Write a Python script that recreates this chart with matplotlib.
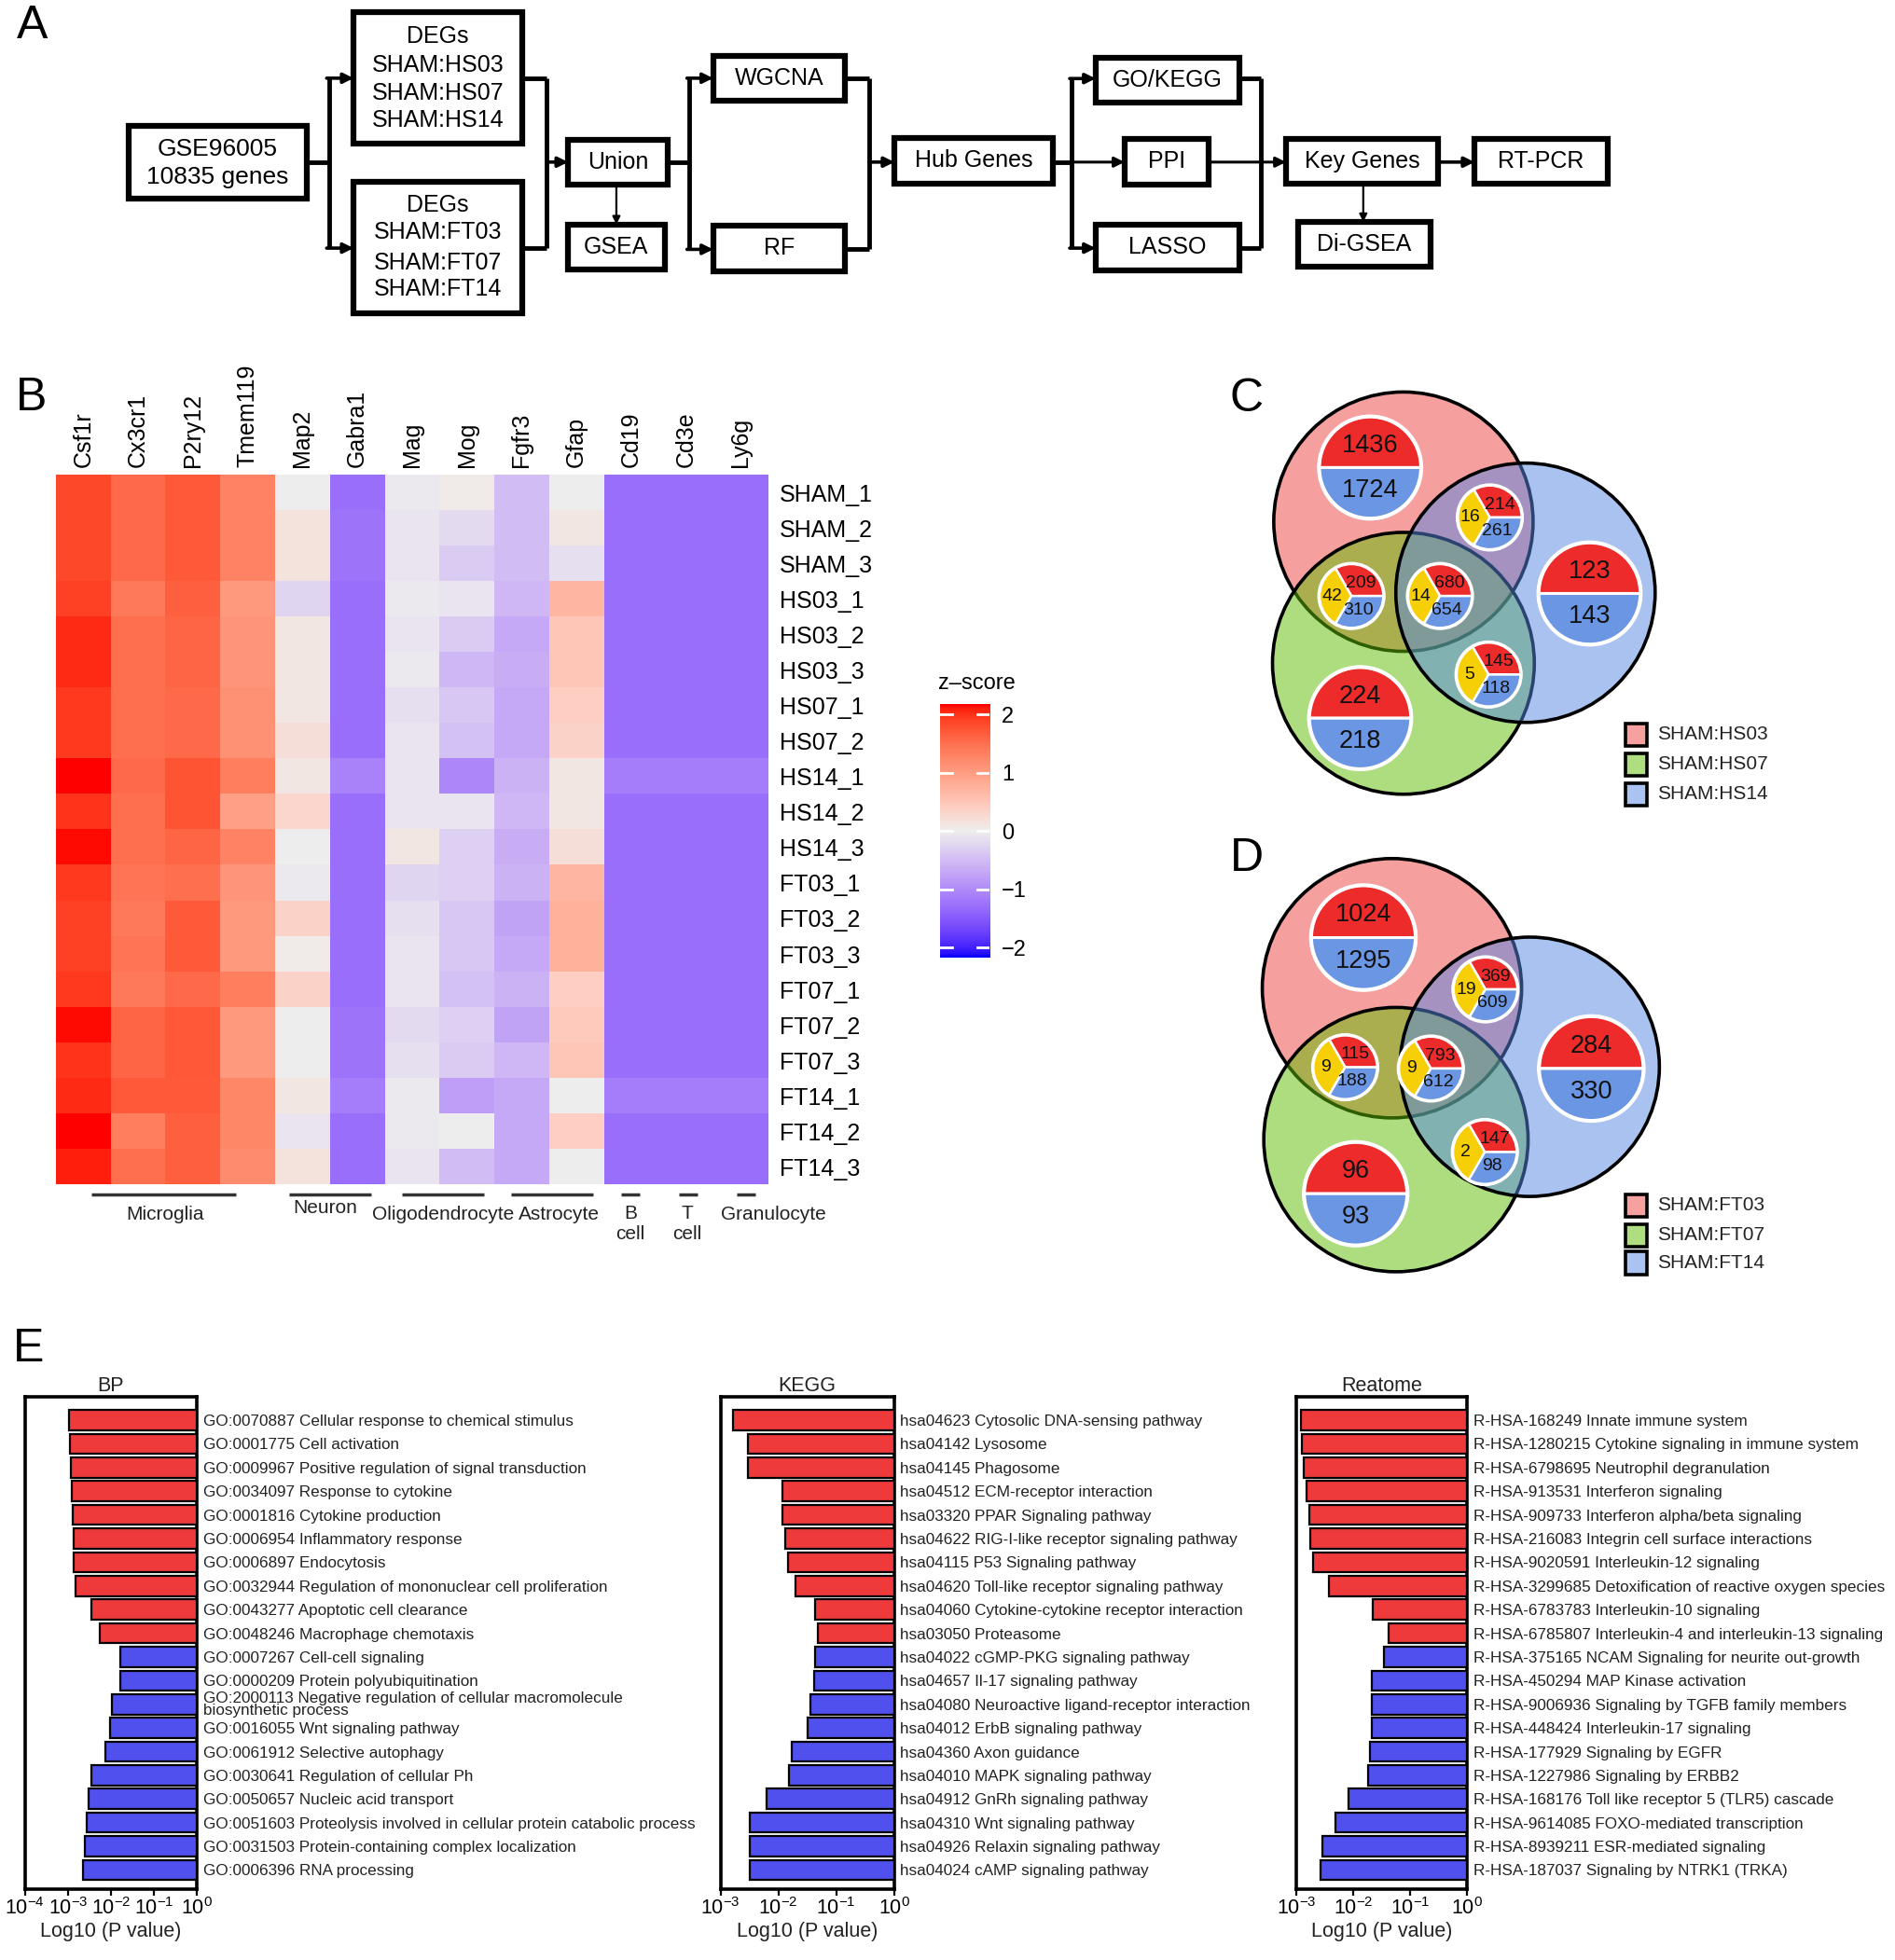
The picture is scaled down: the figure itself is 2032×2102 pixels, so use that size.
import numpy as np
import matplotlib
matplotlib.use('Agg')
import matplotlib.pyplot as plt
from matplotlib.patches import Rectangle, Circle, Wedge
from matplotlib.colors import ListedColormap
from matplotlib.ticker import LogLocator, NullLocator

plt.rcParams['font.family'] = ['Liberation Sans', 'DejaVu Sans']
plt.rcParams['mathtext.fontset'] = 'custom'
plt.rcParams['mathtext.rm'] = 'Liberation Sans'
plt.rcParams['mathtext.it'] = 'Liberation Sans:italic'
plt.rcParams['mathtext.bf'] = 'Liberation Sans:bold'

# ---------------- data ----------------
# Panel A flowchart node texts
node_gse = ["GSE96005", "10835 genes"]
node_deg_hs = ["DEGs", "SHAM:HS03", "SHAM:HS07", "SHAM:HS14"]
node_deg_ft = ["DEGs", "SHAM:FT03", "SHAM:FT07", "SHAM:FT14"]
node_single = ["Union", "GSEA", "WGCNA", "RF", "Hub Genes", "GO/KEGG", "PPI",
               "LASSO", "Key Genes", "Di-GSEA", "RT-PCR"]

# Panel B heatmap
genes = ["Csf1r", "Cx3cr1", "P2ry12", "Tmem119", "Map2", "Gabra1", "Mag", "Mog",
         "Fgfr3", "Gfap", "Cd19", "Cd3e", "Ly6g"]
samples = ["SHAM_1", "SHAM_2", "SHAM_3", "HS03_1", "HS03_2", "HS03_3", "HS07_1",
           "HS07_2", "HS14_1", "HS14_2", "HS14_3", "FT03_1", "FT03_2", "FT03_3",
           "FT07_1", "FT07_2", "FT07_3", "FT14_1", "FT14_2", "FT14_3"]
csf1r = [1.85, 1.85, 1.85, 1.90, 2.05, 2.05, 1.95, 1.95, 2.17, 2.00, 2.15, 1.95, 1.90, 1.90, 1.95, 2.15, 2.00, 2.05, 2.17, 2.10]
cx3cr1 = [1.55, 1.55, 1.55, 1.40, 1.50, 1.50, 1.50, 1.50, 1.55, 1.50, 1.50, 1.45, 1.40, 1.45, 1.40, 1.60, 1.60, 1.70, 1.35, 1.50]
p2ry12 = [1.70, 1.70, 1.70, 1.65, 1.60, 1.60, 1.55, 1.55, 1.75, 1.75, 1.60, 1.50, 1.70, 1.70, 1.55, 1.72, 1.72, 1.70, 1.65, 1.65]
tmem119 = [1.30, 1.30, 1.30, 1.05, 1.10, 1.10, 1.15, 1.15, 1.35, 0.95, 1.30, 1.10, 1.05, 1.05, 1.35, 1.05, 1.05, 1.25, 1.25, 1.20]
map2 = [0.00, 0.15, 0.15, -0.25, 0.10, 0.10, 0.10, 0.20, 0.10, 0.30, 0.00, -0.05, 0.35, 0.05, 0.35, 0.00, 0.00, 0.10, -0.10, 0.15]
gabra1 = [-1.30, -1.25, -1.25, -1.30, -1.30, -1.30, -1.30, -1.30, -1.10, -1.30, -1.30, -1.30, -1.30, -1.30, -1.30, -1.25, -1.25, -1.15, -1.30, -1.30]
mag = [-0.05, -0.10, -0.10, -0.05, -0.10, -0.05, -0.15, -0.10, -0.10, -0.10, 0.10, -0.25, -0.15, -0.10, -0.10, -0.20, -0.15, -0.05, -0.05, -0.10]
mog = [0.05, -0.20, -0.35, -0.10, -0.35, -0.55, -0.40, -0.45, -1.05, -0.10, -0.30, -0.30, -0.40, -0.40, -0.45, -0.30, -0.35, -0.80, 0.00, -0.50]
fgfr3 = [-0.50, -0.50, -0.50, -0.55, -0.70, -0.65, -0.70, -0.70, -0.60, -0.55, -0.65, -0.60, -0.75, -0.70, -0.60, -0.75, -0.55, -0.70, -0.70, -0.70]
gfap = [0.00, 0.10, -0.15, 0.70, 0.50, 0.50, 0.40, 0.35, 0.10, 0.10, 0.20, 0.70, 0.75, 0.75, 0.40, 0.45, 0.50, 0.00, 0.40, 0.00]
cd19 = [-1.30, -1.30, -1.30, -1.30, -1.30, -1.30, -1.30, -1.30, -1.15, -1.30, -1.30, -1.30, -1.30, -1.30, -1.30, -1.30, -1.30, -1.15, -1.30, -1.30]
cd3e = [-1.30, -1.30, -1.30, -1.30, -1.30, -1.30, -1.30, -1.30, -1.15, -1.30, -1.30, -1.30, -1.30, -1.30, -1.30, -1.30, -1.30, -1.15, -1.30, -1.30]
ly6g = [-1.30, -1.30, -1.30, -1.30, -1.30, -1.30, -1.30, -1.30, -1.15, -1.30, -1.30, -1.30, -1.30, -1.30, -1.30, -1.30, -1.30, -1.15, -1.30, -1.30]
group_names = ["Microglia", "Neuron", "Oligodendrocyte", "Astrocyte", "B\ncell", "T\ncell", "Granulocyte"]
group_sizes = [4, 2, 2, 2, 1, 1, 1]
cbar_ticks = [2, 1, 0, -1, -2]

# Panels C / D Venn counts (regions: only1, only3, only2, 1&3, 1&2, all, 2&3)
hs_labels = ["SHAM:HS03", "SHAM:HS07", "SHAM:HS14"]
hs_up = [1436, 123, 224, 214, 209, 680, 145]
hs_down = [1724, 143, 218, 261, 310, 654, 118]
hs_mixed = [None, None, None, 16, 42, 14, 5]
ft_labels = ["SHAM:FT03", "SHAM:FT07", "SHAM:FT14"]
ft_up = [1024, 284, 96, 369, 115, 793, 147]
ft_down = [1295, 330, 93, 609, 188, 612, 98]
ft_mixed = [None, None, None, 19, 9, 9, 2]

# Panel E enrichment
bp_terms = ["GO:0070887 Cellular response to chemical stimulus",
            "GO:0001775 Cell activation",
            "GO:0009967 Positive regulation of signal transduction",
            "GO:0034097 Response to cytokine",
            "GO:0001816 Cytokine production",
            "GO:0006954 Inflammatory response",
            "GO:0006897 Endocytosis",
            "GO:0032944 Regulation of mononuclear cell proliferation",
            "GO:0043277 Apoptotic cell clearance",
            "GO:0048246 Macrophage chemotaxis",
            "GO:0007267 Cell-cell signaling",
            "GO:0000209 Protein polyubiquitination",
            "GO:2000113 Negative regulation of cellular macromolecule\nbiosynthetic process",
            "GO:0016055 Wnt signaling pathway",
            "GO:0061912 Selective autophagy",
            "GO:0030641 Regulation of cellular Ph",
            "GO:0050657 Nucleic acid transport",
            "GO:0051603 Proteolysis involved in cellular protein catabolic process",
            "GO:0031503 Protein-containing complex localization",
            "GO:0006396 RNA processing"]
bp_log10p = [-2.98, -2.95, -2.94, -2.92, -2.89, -2.87, -2.86, -2.82, -2.45, -2.25,
             -1.78, -1.79, -1.98, -2.02, -2.13, -2.45, -2.51, -2.57, -2.61, -2.66]
bp_dir = ["up"] * 10 + ["down"] * 10

kegg_terms = ["hsa04623 Cytosolic DNA-sensing pathway",
              "hsa04142 Lysosome",
              "hsa04145 Phagosome",
              "hsa04512 ECM-receptor interaction",
              "hsa03320 PPAR Signaling pathway",
              "hsa04622 RIG-I-like receptor signaling pathway",
              "hsa04115 P53 Signaling pathway",
              "hsa04620 Toll-like receptor signaling pathway",
              "hsa04060 Cytokine-cytokine receptor interaction",
              "hsa03050 Proteasome",
              "hsa04022 cGMP-PKG signaling pathway",
              "hsa04657 Il-17 signaling pathway",
              "hsa04080 Neuroactive ligand-receptor interaction",
              "hsa04012 ErbB signaling pathway",
              "hsa04360 Axon guidance",
              "hsa04010 MAPK signaling pathway",
              "hsa04912 GnRh signaling pathway",
              "hsa04310 Wnt signaling pathway",
              "hsa04926 Relaxin signaling pathway",
              "hsa04024 cAMP signaling pathway"]
kegg_log10p = [-2.78, -2.53, -2.52, -1.93, -1.93, -1.88, -1.83, -1.70, -1.36, -1.31,
               -1.36, -1.38, -1.44, -1.49, -1.77, -1.81, -2.21, -2.50, -2.50, -2.50]
kegg_dir = ["up"] * 10 + ["down"] * 10

reac_terms = ["R-HSA-168249 Innate immune system",
              "R-HSA-1280215 Cytokine signaling in immune system",
              "R-HSA-6798695 Neutrophil degranulation",
              "R-HSA-913531 Interferon signaling",
              "R-HSA-909733 Interferon alpha/beta signaling",
              "R-HSA-216083 Integrin cell surface interactions",
              "R-HSA-9020591 Interleukin-12 signaling",
              "R-HSA-3299685 Detoxification of reactive oxygen species",
              "R-HSA-6783783 Interleukin-10 signaling",
              "R-HSA-6785807 Interleukin-4 and interleukin-13 signaling",
              "R-HSA-375165 NCAM Signaling for neurite out-growth",
              "R-HSA-450294 MAP Kinase activation",
              "R-HSA-9006936 Signaling by TGFB family members",
              "R-HSA-448424 Interleukin-17 signaling",
              "R-HSA-177929 Signaling by EGFR",
              "R-HSA-1227986 Signaling by ERBB2",
              "R-HSA-168176 Toll like receptor 5 (TLR5) cascade",
              "R-HSA-9614085 FOXO-mediated transcription",
              "R-HSA-8939211 ESR-mediated signaling",
              "R-HSA-187037 Signaling by NTRK1 (TRKA)"]
reac_log10p = [-2.93, -2.91, -2.88, -2.82, -2.77, -2.76, -2.71, -2.43, -1.67, -1.39,
               -1.46, -1.68, -1.68, -1.68, -1.71, -1.74, -2.08, -2.32, -2.54, -2.58]
reac_dir = ["up"] * 10 + ["down"] * 10

# ---------------- figure ----------------
W, H = 1520.0, 1572.0
fig = plt.figure(figsize=(20.32, 21.02), dpi=100)


def fax(x0, y0, x1, y1):
    return fig.add_axes([x0 / W, 1 - y1 / H, (x1 - x0) / W, (y1 - y0) / H])


bg = fig.add_axes([0, 0, 1, 1])
bg.set_xlim(0, W)
bg.set_ylim(H, 0)
bg.axis('off')

LETTER = 36
for s, x, y in [("A", 26, 21), ("B", 25, 319), ("C", 1000, 320), ("D", 1000, 689), ("E", 23, 1082)]:
    bg.text(x, y, s, fontsize=LETTER, ha='center', va='center')

# ---------------- Panel A ----------------
BOX_LW = 4.5
LINE_LW = 3.5
FS_A = 18


def box(x0, y0, x1, y1):
    bg.add_patch(Rectangle((x0 + 1.5, y0 + 2.5), x1 - x0, y1 - y0, fc='#bbbbbb', ec='none', zorder=2, alpha=0.5))
    bg.add_patch(Rectangle((x0, y0), x1 - x0, y1 - y0, fc='white', ec='black', lw=BOX_LW, zorder=3))


def line(xs, ys, lw=LINE_LW):
    bg.plot(xs, ys, color='black', lw=lw, solid_capstyle='butt', zorder=2.5)


def arrow(x0, y0, x1, y1, lw=2.6, ms=16):
    bg.annotate('', xy=(x1, y1), xytext=(x0, y0),
                arrowprops=dict(arrowstyle='-|>', lw=lw, color='black', mutation_scale=ms,
                                shrinkA=0, shrinkB=0), zorder=4)


# boxes
box(103, 101, 246, 159)
for t, y in zip(node_gse, [120, 142]):
    bg.text(174.5, y, t, ha='center', va='center', fontsize=19, zorder=5)
box(283.6, 10, 419, 115)
for t, y in zip(node_deg_hs, [29, 52, 75, 96.5]):
    bg.text(351.3, y, t, ha='center', va='center', fontsize=FS_A, zorder=5)
box(283.6, 145.5, 419, 251)
for t, y in zip(node_deg_ft, [164.6, 186.5, 210.8, 231.5]):
    bg.text(351.3, y, t, ha='center', va='center', fontsize=FS_A, zorder=5)

single_boxes = [(455.7, 112, 535.6, 148), (455.7, 180, 533, 216), (572, 45, 677.7, 80.6),
                (572, 181, 677.7, 217.5), (717.4, 110.6, 844.8, 147.4), (878.8, 46, 994, 82.3),
                (902, 111.3, 969.4, 148), (878.8, 180, 994, 216.7), (1031.5, 111.3, 1153.6, 147.4),
                (1041, 178, 1147.8, 214), (1182.7, 111.3, 1289.8, 147.4)]
for t, (x0, y0, x1, y1) in zip(node_single, single_boxes):
    box(x0, y0, x1, y1)
    bg.text((x0 + x1) / 2, (y0 + y1) / 2, t, ha='center', va='center', fontsize=FS_A, zorder=5)

# connectors
line([246, 264], [130, 130])
line([264, 264], [62.7, 199])
arrow(262, 62.7, 283.6, 62.7)
arrow(262, 199, 283.6, 199)
line([419, 438.7], [62.7, 62.7])
line([419, 438.7], [199, 199])
line([438.7, 438.7], [62.7, 199])
arrow(438.7, 130, 455.7, 130)
line([535.6, 552.6], [130, 130])
line([552.6, 552.6], [62.7, 200])
arrow(551, 62.7, 572, 62.7)
arrow(551, 200, 572, 200)
arrow(494.4, 148, 494.4, 180, lw=1.6, ms=12)
line([677.7, 697], [62.7, 62.7])
line([677.7, 697], [200, 200])
line([697, 697], [62.7, 200])
arrow(697, 130, 717.4, 130)
line([844.8, 859.4], [130, 130])
line([859.4, 859.4], [63, 199])
arrow(858, 63, 878.8, 63)
arrow(858, 199, 878.8, 199)
arrow(859.4, 130, 902, 130, lw=2.2)
line([994, 1011], [63, 63])
line([994, 1011], [199, 199])
line([1011, 1011], [63, 199])
arrow(969.4, 130, 1031.5, 130, lw=2.2)
arrow(1093.5, 147.4, 1093.5, 178, lw=1.6, ms=12)
arrow(1153.6, 130, 1182.7, 130)

# ---------------- Panel B heatmap ----------------


def srgb_to_lab(rgb):
    rgb = np.asarray(rgb, float)
    lin = np.where(rgb <= 0.04045, rgb / 12.92, ((rgb + 0.055) / 1.055) ** 2.4)
    M = np.array([[0.4124, 0.3576, 0.1805], [0.2126, 0.7152, 0.0722], [0.0193, 0.1192, 0.9505]])
    xyz = M @ lin / np.array([0.95047, 1.0, 1.08883])
    d = 6 / 29
    f = np.where(xyz > d ** 3, np.cbrt(xyz), xyz / (3 * d * d) + 4 / 29)
    return np.array([116 * f[1] - 16, 500 * (f[0] - f[1]), 200 * (f[1] - f[2])])


def lab_to_srgb(lab):
    L, a, b = lab
    fy = (L + 16) / 116
    fx = fy + a / 500
    fz = fy - b / 200
    d = 6 / 29
    fs = np.array([fx, fy, fz])
    xyz = np.where(fs > d, fs ** 3, 3 * d * d * (fs - 4 / 29)) * np.array([0.95047, 1.0, 1.08883])
    Mi = np.linalg.inv(np.array([[0.4124, 0.3576, 0.1805], [0.2126, 0.7152, 0.0722], [0.0193, 0.1192, 0.9505]]))
    lin = np.clip(Mi @ xyz, 0, 1)
    rgb = np.where(lin <= 0.0031308, 12.92 * lin, 1.055 * lin ** (1 / 2.4) - 0.055)
    return np.clip(rgb, 0, 1)


lab_lo = srgb_to_lab([0, 0, 1])
lab_mid = srgb_to_lab([0xEE / 255] * 3)
lab_hi = srgb_to_lab([1, 0, 0])
cols = []
for t in np.linspace(-1, 1, 256):
    if t < 0:
        lab = lab_mid + (lab_lo - lab_mid) * (-t)
    else:
        lab = lab_mid + (lab_hi - lab_mid) * t
    cols.append(lab_to_srgb(lab))
cmap = ListedColormap(cols)
VMAX = 2.17

mat = np.column_stack([csf1r, cx3cr1, p2ry12, tmem119, map2, gabra1, mag, mog, fgfr3, gfap, cd19, cd3e, ly6g])
nrow, ncol = mat.shape
hm = fax(45, 381, 616, 950)
hm.imshow(mat, cmap=cmap, vmin=-VMAX, vmax=VMAX, aspect='auto', interpolation='nearest')
hm.set_xticks(range(len(genes)))
hm.set_xticklabels(genes, rotation=90, fontsize=18)
hm.xaxis.tick_top()
hm.set_yticks(range(len(samples)))
hm.set_yticklabels(samples, fontsize=18)
hm.yaxis.tick_right()
hm.tick_params(axis='x', length=0, pad=6)
hm.tick_params(axis='y', length=0, pad=9)
for sp in hm.spines.values():
    sp.set_visible(False)

line_half = [1.32, 0.75, 0.75, 0.75, 0.17, 0.17, 0.17]
line_shift = [-0.03, 0.01, 0.06, 0.05, -0.01, 0.05, 0.1]
label_shift = [-0.01, -0.09, 0.07, 0.19, -0.01, 0.03, 0.6]
label_y = [20.1, 19.92, 20.1, 20.1, 20.08, 20.08, 20.1]
start = 0
for name, n, hw, ls, lbs, ly in zip(group_names, group_sizes, line_half, line_shift, label_shift, label_y):
    c = start + (n - 1) / 2.0
    hm.plot([c + ls - hw, c + ls + hw], [nrow - 0.5 + 0.27] * 2, color='#333333', lw=2.5, clip_on=False,
            solid_capstyle='butt')
    hm.text(c + lbs, ly, name, ha='center', va='top', fontsize=15, color='#222222', clip_on=False)
    start += n
hm.set_xlim(-0.5, ncol - 0.5)
hm.set_ylim(nrow - 0.5, -0.5)

# colorbar
cb = fax(754, 565, 794, 768)
grad = np.linspace(VMAX, -VMAX, 300)[:, None]
cb.imshow(grad, cmap=cmap, vmin=-VMAX, vmax=VMAX, aspect='auto', extent=[0, 1, -VMAX, VMAX])
cb.set_xticks([])
cb.yaxis.tick_right()
cb.set_yticks(cbar_ticks)
cb.set_yticklabels(["2", "1", "0", "\u22121", "\u22122"], fontsize=17)
cb.tick_params(axis='y', length=0, pad=9)
for v in cbar_ticks:
    cb.plot([0, 0.25], [v, v], color='white', lw=2)
    cb.plot([0.75, 1], [v, v], color='white', lw=2)
cb.set_xlim(0, 1)
cb.set_ylim(-VMAX, VMAX)
for sp in cb.spines.values():
    sp.set_visible(False)
bg.text(783.5, 548.5, "z\u2013score", ha='center', va='center', fontsize=17)

# ---------------- Panels C / D ----------------
circ_cols = [(239 / 255, 65 / 255, 65 / 255), (95 / 255, 189 / 255, 0.0), (85 / 255, 135 / 255, 225 / 255)]
PIE_RED = '#EE2B2B'
PIE_BLUE = '#6A96E4'
PIE_YEL = '#F6CF06'
TXT = '#111111'


def venn(circles, pies, up, down, mixed, labels, leg_y):
    for (cx, cy, r), col in zip(circles, circ_cols):
        bg.add_patch(Circle((cx, cy), r, fc=col + (0.5,), ec='black', lw=2.6, zorder=2))
    for i, (px, py, pr) in enumerate(pies):
        if mixed[i] is None:
            bg.add_patch(Wedge((px, py), pr, 180, 360, fc=PIE_RED, ec='white', lw=2.2, zorder=5))
            bg.add_patch(Wedge((px, py), pr, 0, 180, fc=PIE_BLUE, ec='white', lw=2.2, zorder=5))
            bg.add_patch(Circle((px, py), pr, fill=False, ec='white', lw=3, zorder=6))
            bg.text(px, py - 0.43 * pr, str(up[i]), ha='center', va='center', fontsize=19.5, color=TXT, zorder=7)
            bg.text(px, py + 0.45 * pr, str(down[i]), ha='center', va='center', fontsize=19.5, color=TXT, zorder=7)
        else:
            bg.add_patch(Wedge((px, py), pr, 240, 360, fc=PIE_RED, ec='white', lw=1.8, zorder=5))
            bg.add_patch(Wedge((px, py), pr, 120, 240, fc=PIE_YEL, ec='white', lw=1.8, zorder=5))
            bg.add_patch(Wedge((px, py), pr, 0, 120, fc=PIE_BLUE, ec='white', lw=1.8, zorder=5))
            bg.add_patch(Circle((px, py), pr, fill=False, ec='white', lw=2.6, zorder=6))
            bg.text(px - 0.6 * pr, py, str(mixed[i]), ha='center', va='center', fontsize=14, color=TXT, zorder=7)
            bg.text(px + 0.3 * pr, py - 0.4 * pr, str(up[i]), ha='center', va='center', fontsize=14,
                    color=TXT, zorder=7)
            bg.text(px + 0.22 * pr, py + 0.43 * pr, str(down[i]), ha='center', va='center', fontsize=14,
                    color=TXT, zorder=7)
    for lab, col, y in zip(labels, circ_cols, leg_y):
        blend = tuple(0.5 + 0.5 * c for c in col)
        bg.add_patch(Rectangle((1303.7, y - 9), 17.5, 18, fc=blend, ec='black', lw=2.6, zorder=5))
        bg.text(1329, y, lab, ha='left', va='center', fontsize=15, color='#222222', zorder=5)


venn([(1125.7, 418.4, 104), (1125.7, 532, 105), (1223.6, 475.4, 104)],
     [(1099, 375, 41), (1275, 476, 41), (1091, 576, 41), (1195, 415, 26),
      (1084, 478, 26), (1155, 478, 26), (1194, 541, 26)],
     hs_up, hs_down, hs_mixed, hs_labels, [589, 613, 637])
venn([(1116.5, 792.6, 104), (1119.7, 914, 106), (1227, 855.6, 104)],
     [(1093.6, 752, 42), (1276.4, 857, 42), (1087.4, 957.4, 41.5), (1191.5, 793.5, 26),
      (1079, 856, 26), (1147.7, 857, 26), (1191, 924, 26)],
     ft_up, ft_down, ft_mixed, ft_labels, [966.8, 990.6, 1013])

# ---------------- Panel E ----------------
BAR_RED = '#EE3A3A'
BAR_BLUE = '#5050EE'


def enrich(rect, title, terms, log10p, dirs, xmin):
    ax = fax(*rect)
    y = np.arange(len(terms))
    p = 10.0 ** np.array(log10p)
    colors = [BAR_RED if d == "up" else BAR_BLUE for d in dirs]
    ax.set_xscale('log')
    ax.barh(y, 1.0 - p, left=p, height=0.85, color=colors, edgecolor='black', lw=1.6, zorder=3)
    ax.set_xlim(xmin, 1.0)
    ax.set_ylim(len(terms) - 0.2, -1.0)
    ax.xaxis.set_major_locator(LogLocator(base=10, numticks=10))
    ax.xaxis.set_minor_locator(NullLocator())
    ax.tick_params(axis='x', direction='out', length=5, width=1.6, labelsize=15.5, pad=2)
    ax.yaxis.tick_right()
    ax.set_yticks(y)
    ax.set_yticklabels(terms, fontsize=12.3, color='#222222')
    for tl in ax.get_yticklabels():
        if '\n' in tl.get_text():
            tl.set_linespacing(0.85)
    ax.tick_params(axis='y', length=0, pad=5)
    for sp in ax.spines.values():
        sp.set_linewidth(2.6)
    ax.set_title(title, fontsize=15.5, pad=4, color='#222222')
    ax.set_xlabel("Log10 (P value)", fontsize=15.5, labelpad=2, color='#222222')
    return ax


enrich((20, 1120, 158, 1515), "BP", bp_terms, bp_log10p, bp_dir, 1e-4)
enrich((578, 1120, 717, 1515), "KEGG", kegg_terms, kegg_log10p, kegg_dir, 1e-3)
enrich((1040, 1120, 1177, 1515), "Reatome", reac_terms, reac_log10p, reac_dir, 1e-3)

fig.savefig("out.png", dpi=100)
